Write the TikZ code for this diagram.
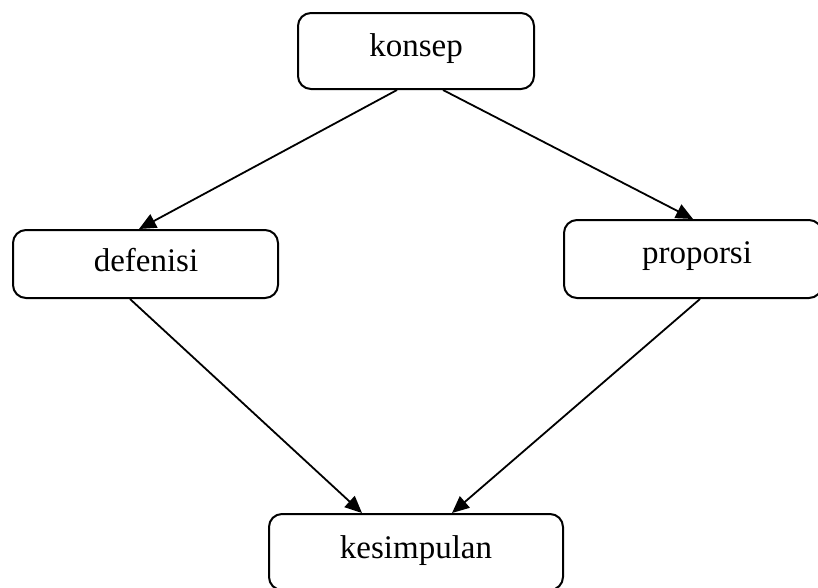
\documentclass[tikz,border=0pt]{standalone}
\usepackage{fontspec}
\setmainfont{Liberation Serif}
\usetikzlibrary{arrows.meta,calc}

\tikzset{
  box/.style={draw=black, line width=2pt, rounded corners=13pt, fill=white,
              inner sep=0pt, anchor=center},
  word/.style={anchor=base, inner sep=0pt, font=\fontsize{33}{38}\selectfont},
  link/.style={draw=black, line width=1.8pt,
               -{Triangle[length=17pt,width=15pt]}, shorten >=0pt}
}

\begin{document}
\begin{tikzpicture}[x=1pt, y=-1pt]
  \useasboundingbox (0,0) rectangle (818,587);
  \begin{scope}
    \clip (0,0) rectangle (818,587);

    % boxes
    \node[box, minimum width=236pt, minimum height=76pt] (konsep) at (416,51) {};
    \node[box, minimum width=265pt, minimum height=68pt] (defenisi) at (145.5,264) {};
    \node[box, minimum width=258pt, minimum height=78pt] (proporsi) at (693,259) {};
    \node[box, minimum width=294pt, minimum height=76pt] (kesimpulan) at (416,552) {};

    % labels
    \node[word] (konsep-t) at (416,56) {konsep};
    \node[word] (defenisi-t) at (146,271) {defenisi};
    \node[word] (proporsi-t) at (697,263) {proporsi};
    \node[word] (kesimpulan-t) at (416,558) {kesimpulan};

    % connectors
    \draw[link] ($(konsep.south)+(-19,0)$) -- ($(defenisi.north)+(-6.5,0)$);
    \draw[link] ($(konsep.south)+(27,0)$) -- ($(proporsi.north)+(0,0)$);
    \draw[link] ($(defenisi.south)+(-15.5,0)$) -- ($(kesimpulan.north)+(-54,0)$);
    \draw[link] ($(proporsi.south)+(7,0)$) -- ($(kesimpulan.north)+(36,0)$);
  \end{scope}
\end{tikzpicture}
\end{document}
